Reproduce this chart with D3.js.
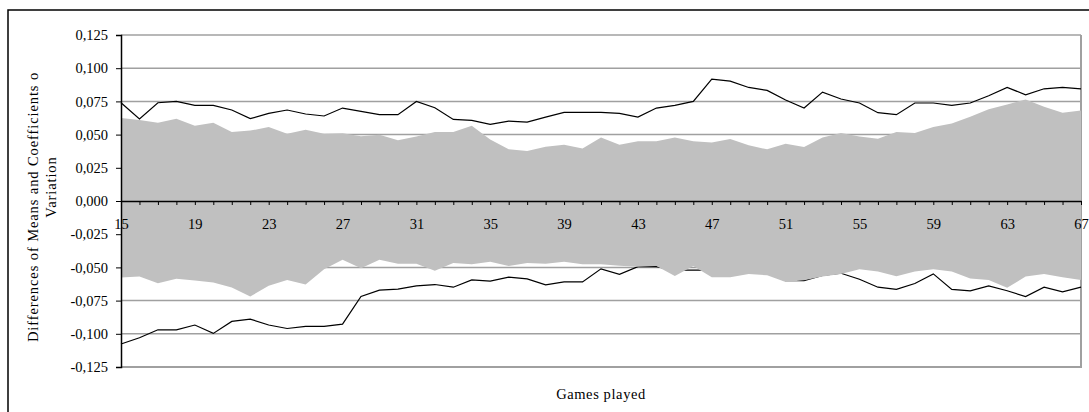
<!DOCTYPE html>
<html>
<head>
<meta charset="utf-8">
<script src="https://cdn.jsdelivr.net/npm/d3@7"></script>
<style>
  body { margin: 0; background: #fff; }
  svg text { font-family: "Times New Roman", "Liberation Serif", "DejaVu Serif", serif !important; fill: #000; }
</style>
</head>
<body>
<div id="chart"></div>
<script>
// games played (categories)
const games = [15, 16, 17, 18, 19, 20, 21, 22, 23, 24, 25, 26, 27, 28, 29, 30, 31, 32, 33, 34,
  35, 36, 37, 38, 39, 40, 41, 42, 43, 44, 45, 46, 47, 48, 49, 50, 51, 52, 53, 54,
  55, 56, 57, 58, 59, 60, 61, 62, 63, 64, 65, 66, 67];

// upper black line
const upperLine = [0.074, 0.0617, 0.074, 0.075, 0.072, 0.072, 0.0685, 0.062, 0.066, 0.0685,
  0.0655, 0.064, 0.070, 0.0675, 0.065, 0.065, 0.075, 0.0702, 0.0614, 0.0607,
  0.0577, 0.0602, 0.0594, 0.0632, 0.0667, 0.0667, 0.0667, 0.066, 0.0632, 0.070,
  0.072, 0.075, 0.0918, 0.0903, 0.0855, 0.0833, 0.076, 0.070, 0.082, 0.0768,
  0.0738, 0.0665, 0.065, 0.0738, 0.0738, 0.072, 0.0738, 0.0793, 0.0855, 0.080,
  0.0845, 0.0855, 0.0845];

// upper grey area
const upperArea = [0.0625, 0.061, 0.059, 0.062, 0.0567, 0.059, 0.052, 0.053, 0.0557, 0.0507,
  0.0537, 0.0507, 0.051, 0.0487, 0.0498, 0.0458, 0.0486, 0.052, 0.052, 0.0567,
  0.0464, 0.0389, 0.0376, 0.0409, 0.0424, 0.0396, 0.0479, 0.0424, 0.045, 0.045,
  0.0479, 0.045, 0.044, 0.0466, 0.042, 0.0389, 0.0431, 0.0406, 0.0479, 0.0512,
  0.0486, 0.0469, 0.0519, 0.0512, 0.0557, 0.0584, 0.0635, 0.069, 0.0727, 0.0765,
  0.071, 0.0665, 0.0682];

// lower grey area
const lowerArea = [-0.0576, -0.0569, -0.0619, -0.0586, -0.0599, -0.0614, -0.0651, -0.0719, -0.0639, -0.0594,
  -0.0629, -0.0514, -0.0443, -0.0506, -0.0443, -0.0473, -0.0473, -0.0526, -0.0466, -0.0476,
  -0.0458, -0.049, -0.0466, -0.0473, -0.0458, -0.0476, -0.0476, -0.0488, -0.0496, -0.049,
  -0.0564, -0.049, -0.0574, -0.0574, -0.055, -0.0559, -0.0609, -0.0596, -0.0569, -0.055,
  -0.0514, -0.0531, -0.0566, -0.0531, -0.0514, -0.0531, -0.0584, -0.0594, -0.0654, -0.0569,
  -0.055, -0.0574, -0.0594];

// lower black line
const lowerLine = [-0.1077, -0.103, -0.097, -0.097, -0.0934, -0.0997, -0.0907, -0.0889, -0.0934, -0.096,
  -0.0944, -0.0944, -0.0927, -0.0719, -0.0671, -0.0664, -0.0639, -0.0629, -0.0649, -0.0594,
  -0.0604, -0.0574, -0.0586, -0.0631, -0.0609, -0.0609, -0.0511, -0.0552, -0.0494, -0.0494,
  -0.052, -0.052, -0.052, -0.052, -0.053, -0.054, -0.060, -0.060, -0.056, -0.0544,
  -0.0589, -0.0649, -0.0666, -0.0621, -0.0549, -0.0666, -0.0676, -0.0639, -0.0676, -0.0719,
  -0.0649, -0.0684, -0.0649];

const yTicks = [0.125, 0.1, 0.075, 0.05, 0.025, 0, -0.025, -0.05, -0.075, -0.1, -0.125];
const xLabels = [15, 19, 23, 27, 31, 35, 39, 43, 47, 51, 55, 59, 63, 67];

const width = 1089, height = 412;
const svg = d3.select("#chart").append("svg")
  .attr("width", width)
  .attr("height", height);

// outer frame (only left/top visible)
svg.append("rect")
  .attr("x", 8).attr("y", 10)
  .attr("width", 1100).attr("height", 420)
  .attr("fill", "none")
  .attr("stroke", "#000")
  .attr("stroke-width", 1.5);

const x = d3.scaleLinear().domain([15, 67]).range([121, 1081]);
const y = d3.scaleLinear().domain([-0.125, 0.125]).range([367, 35]);

// gridlines
svg.append("g")
  .selectAll("line")
  .data(yTicks)
  .enter().append("line")
  .attr("x1", x(15)).attr("x2", x(67))
  .attr("y1", d => y(d)).attr("y2", d => y(d))
  .attr("stroke", "#a0a0a0")
  .attr("stroke-width", d => d === -0.125 ? 2 : 1.5);

// right border of plot area
svg.append("line")
  .attr("x1", x(67)).attr("x2", x(67))
  .attr("y1", y(0.125)).attr("y2", y(-0.125) + 1)
  .attr("stroke", "#a0a0a0")
  .attr("stroke-width", 2);

const line = d3.line()
  .x((d, i) => x(games[i]))
  .y(d => y(d));

[upperLine, lowerLine].forEach(s => {
  svg.append("path")
    .datum(s)
    .attr("fill", "none")
    .attr("stroke", "#000")
    .attr("stroke-width", 1.2)
    .attr("d", line);
});

// grey areas drawn over the lines
const area = d3.area()
  .x((d, i) => x(games[i]))
  .y0(y(0))
  .y1(d => y(d));

[upperArea, lowerArea].forEach(s => {
  svg.append("path")
    .datum(s)
    .attr("fill", "#c0c0c0")
    .attr("d", area);
});

// y axis
const yAxis = d3.axisLeft(y)
  .tickValues(yTicks)
  .tickSize(5)
  .tickPadding(8)
  .tickFormat(d => d3.format(".3f")(d).replace(".", ",").replace("−", "-"));

svg.append("g")
  .attr("transform", `translate(${x(15)},0)`)
  .call(yAxis)
  .call(g => g.select(".domain").attr("stroke-width", 1.5))
  .call(g => g.selectAll("text").attr("font-size", "14.5px"));

// x axis at zero
const xAxis = d3.axisBottom(x)
  .tickValues(games)
  .tickSize(4)
  .tickSizeOuter(0)
  .tickPadding(14)
  .tickFormat(d => xLabels.includes(d) ? d : "");

svg.append("g")
  .attr("transform", `translate(0,${y(0)})`)
  .call(xAxis)
  .call(g => g.select(".domain").attr("stroke-width", 1.5))
  .call(g => g.selectAll("text").attr("font-size", "14.5px"));

// axis titles
svg.append("text")
  .attr("transform", "translate(38,207) rotate(-90)")
  .attr("text-anchor", "middle")
  .attr("font-size", "14.5px")
  .attr("letter-spacing", "0.9px")
  .text("Differences of Means and Coefficients o");

svg.append("text")
  .attr("transform", "translate(56,187) rotate(-90)")
  .attr("text-anchor", "middle")
  .attr("font-size", "14.5px")
  .attr("letter-spacing", "0.9px")
  .text("Variation");

svg.append("text")
  .attr("x", (x(15) + x(67)) / 2)
  .attr("y", 399)
  .attr("text-anchor", "middle")
  .attr("font-size", "14.5px")
  .attr("letter-spacing", "0.6px")
  .text("Games played");
</script>
</body>
</html>
